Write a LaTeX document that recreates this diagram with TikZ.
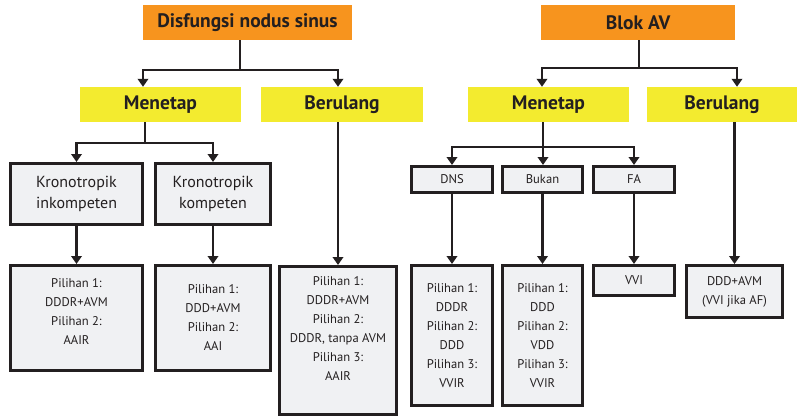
\documentclass[tikz,border=0pt]{standalone}
\usepackage{fontspec}
\setmainfont{PT Sans}
\usetikzlibrary{arrows.meta,calc}
\definecolor{ink}{HTML}{231F20}
\definecolor{headorange}{HTML}{F7941E}
\definecolor{subyellow}{HTML}{F3EB2F}
\definecolor{boxgray}{HTML}{F0F1F3}
\tikzset{
  head/.style={fill=headorange, inner sep=0pt, text=ink,
    font=\fontsize{19.5}{22}\selectfont\bfseries},
  sub/.style={fill=subyellow, inner sep=0pt, text=ink,
    font=\fontsize{19.5}{22}\selectfont\bfseries},
  box/.style={draw=ink, line width=2.6pt, fill=boxgray, inner sep=0pt,
    text=ink, align=center},
  kbox/.style={box, font=\fontsize{16}{21}\selectfont},
  obox/.style={box, font=\fontsize{12.6}{19}\selectfont},
  otext/.style={inner sep=0pt, text=ink, align=center,
    font=\fontsize{12.6}{19}\selectfont},
  wire/.style={draw=ink, line width=2.3pt},
  arr/.style={wire, -{Triangle[length=8pt,width=10.5pt]}},
}
\begin{document}
\begin{tikzpicture}[x=1pt,y=-1pt]
\useasboundingbox (0,0) rectangle (798,418);

% ---- left tree: sinus node dysfunction ----
\node[head, minimum width=209, minimum height=35] (top1) at (247.5,22.5) {Disfungsi nodus sinus};
\node[sub, minimum width=161, minimum height=35] (men1) at (160.5,104.5) {Menetap};
\node[sub, minimum width=162, minimum height=35] (ber1) at (342,104.5) {Berulang};

\node[kbox, minimum width=132.4, minimum height=61.4] (kr1) at (76.5,194) {Kronotropik\\inkompeten};
\node[kbox, minimum width=115.4, minimum height=61.4] (kr2) at (213,194) {Kronotropik\\kompeten};

\node[box, minimum width=132.4, minimum height=105.4] (p1) at (76.5,318) {};
\node[otext] (p1t) at (76.5,312) {Pilihan 1:\\DDDR+AVM\\Pilihan 2:\\AAIR};
\node[obox, minimum width=115.4, minimum height=105.4] (p2) at (213,318) {Pilihan 1:\\DDD+AVM\\Pilihan 2:\\AAI};
\node[box, minimum width=117.4, minimum height=148.4] (p3) at (338,340.5) {};
\node[otext] (p3t) at (338,329) {Pilihan 1:\\DDDR+AVM\\Pilihan 2:\\DDDR, tanpa AVM\\Pilihan 3:\\AAIR};

\coordinate (h1) at (240,70);
\draw[wire] ($(top1.south)+(-7.5,0)$) -- (h1);
\draw[arr] (h1) -| ($(men1.north)+(-17.5,0)$);
\draw[arr] (h1) -| ($(ber1.north)+(-4,0)$);

\coordinate (h2) at (145,143);
\draw[wire] ($(men1.south)+(-15.5,0)$) -- (h2);
\draw[arr] (h2) -| (kr1.north);
\draw[arr] (h2) -| (kr2.north);

\draw[arr] (kr1) -- (p1);
\draw[arr] (kr2) -- (p2);
\draw[arr] (ber1.south -| p3.north) -- (p3.north);

% ---- right tree: AV block ----
\node[head, minimum width=194, minimum height=35] (top2) at (638,22.5) {Blok AV};
\node[sub, minimum width=161, minimum height=35] (men2) at (548.5,104.5) {Menetap};
\node[sub, minimum width=150, minimum height=35] (ber2) at (722,104.5) {Berulang};

\node[obox, minimum width=81.4, minimum height=26.4] (dns) at (452,179.5) {DNS};
\node[obox, minimum width=80.4, minimum height=26.4] (bukan) at (542.5,179.5) {Bukan};
\node[obox, minimum width=81.4, minimum height=26.4] (fa) at (634,179.5) {FA};

\node[obox, minimum width=81.4, minimum height=140.4] (q1) at (452,335.5) {Pilihan 1:\\DDDR\\Pilihan 2:\\DDD\\Pilihan 3:\\VVIR};
\node[obox, minimum width=80.4, minimum height=140.4] (q2) at (542.5,335.5) {Pilihan 1:\\DDD\\Pilihan 2:\\VDD\\Pilihan 3:\\VVIR};
\node[obox, minimum width=81.4, minimum height=30.4] (q3) at (634,280.5) {VVI};
\node[obox, minimum width=96.4, minimum height=52.4] (q4) at (734.5,291.5) {DDD+AVM\\(VVI jika AF)};

\coordinate (h3) at (639,68);
\draw[wire] ($(top2.south)+(1,0)$) -- (h3);
\draw[arr] (h3) -| ($(men2.north)+(-6.5,0)$);
\draw[arr] (h3) -| ($(ber2.north)+(15,0)$);

\coordinate (h4) at (543,147);
\draw[wire] ($(men2.south)+(-5.5,0)$) -- (h4);
\draw[arr] (h4) -| (dns.north);
\draw[arr] (h4) -- (h4 |- bukan.north);
\draw[arr] (h4) -| (fa.north);

\draw[arr] (dns) -- (q1);
\draw[arr] (bukan) -- (q2);
\draw[arr] (fa) -- (q3);
\draw[arr] (ber2.south -| q4.north) -- (q4.north);
\end{tikzpicture}
\end{document}
